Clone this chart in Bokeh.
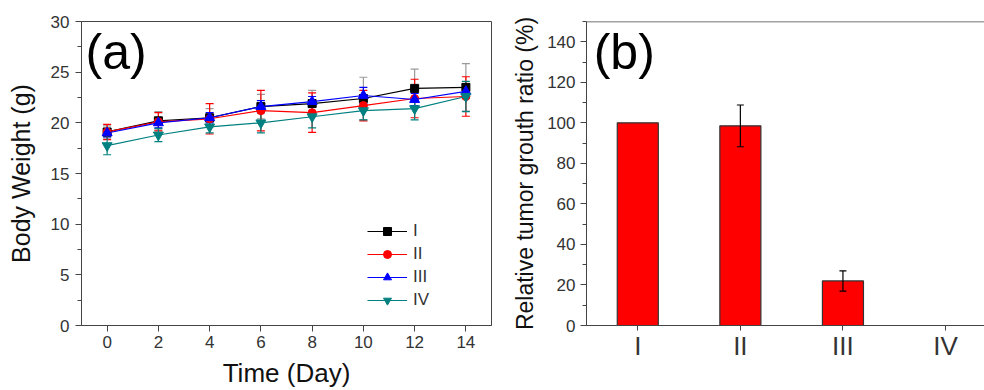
from bokeh.plotting import figure
from bokeh.models import (ColumnDataSource, Whisker, TeeHead, Legend, LegendItem,
                          Label, Span, FixedTicker, Range1d)
from bokeh.layouts import row
from bokeh.embed import file_html
from bokeh.resources import INLINE
import numpy as np

# ---------------- data ----------------
days = [0, 2, 4, 6, 8, 10, 12, 14]
series_names = ["I", "II", "III", "IV"]
w_I = [19.1, 20.2, 20.5, 21.6, 21.9, 22.4, 23.4, 23.5]
w_II = [19.1, 20.1, 20.4, 21.2, 21.0, 21.7, 22.4, 22.6]
w_III = [19.0, 20.0, 20.5, 21.6, 22.1, 22.7, 22.3, 23.1]
w_IV = [17.75, 18.8, 19.6, 20.0, 20.6, 21.2, 21.4, 22.6]
e_I = [0.6, 0.9, 0.9, 1.2, 1.3, 2.1, 1.9, 2.35]
e_II = [0.75, 0.9, 1.5, 2.0, 1.95, 1.5, 1.9, 1.95]
e_III = [0.4, 0.5, 0.5, 0.6, 0.5, 0.8, 0.6, 0.7]
e_IV = [0.9, 0.65, 0.6, 1.0, 1.1, 0.9, 1.1, 1.5]

groups = ["I", "II", "III", "IV"]
growth = [100, 98.5, 22, 0]
growth_err = [0, 10.3, 5, 0]

x_ticks_a = [0, 2, 4, 6, 8, 10, 12, 14]
y_ticks_a = [0, 5, 10, 15, 20, 25, 30]
y_ticks_b = [0, 20, 40, 60, 80, 100, 120, 140]

FONT = "Liberation Sans"
TICK_C = "#333333"
AX_C = "#444444"

# ---------------- panel (a) ----------------
p1 = figure(width=493, height=390, output_backend="svg", toolbar_location=None,
            x_range=Range1d(-1, 15), y_range=Range1d(0, 30),
            min_border_left=81, min_border_right=2, min_border_top=21, min_border_bottom=63)
p1.grid.visible = False
p1.outline_line_color = AX_C
p1.background_fill_color = "white"

colors = ["black", "#FF0000", "#0000FF", "#008080"]
err_colors = ["#9a9a9a", "#FF0000", "#0000FF", "#008080"]
markers = ["square", "circle", "triangle", "inverted_triangle"]
sizes = [8, 8, 10, 10]
vals = [w_I, w_II, w_III, w_IV]
errs = [e_I, e_II, e_III, e_IV]

items = []
srcs = []
for name, c, ec, m, s, v, e in zip(series_names, colors, err_colors, markers, sizes, vals, errs):
    v = np.array(v)
    e = np.array(e)
    src = ColumnDataSource(dict(x=days, y=v, up=v + e, lo=v - e))
    wk = Whisker(source=src, base="x", upper="up", lower="lo", line_color=ec, line_width=1.2,
                 upper_head=TeeHead(size=8, line_color=ec, line_width=1.2),
                 lower_head=TeeHead(size=8, line_color=ec, line_width=1.2))
    p1.add_layout(wk)
    srcs.append((name, src, c, m, s))

for name, src, c, m, s in srcs:
    lr = p1.line("x", "y", source=src, line_color=c, line_width=1.2)
    sr = p1.scatter("x", "y", source=src, marker=m, size=s, fill_color=c, line_color=c)
    items.append(LegendItem(label=name, renderers=[lr, sr]))

legend = Legend(items=items, location=(286, 15), border_line_color=None,
                background_fill_alpha=0, label_text_font=FONT, label_text_font_size="17px",
                label_text_color=TICK_C, glyph_width=40, glyph_height=20, label_height=20,
                spacing=3, padding=4, margin=0, label_standoff=6)
p1.add_layout(legend, "center")

p1.xaxis.ticker = FixedTicker(ticks=x_ticks_a)
p1.yaxis.ticker = FixedTicker(ticks=y_ticks_a, minor_ticks=list(np.arange(0, 30.1, 2.5)))
for ax in (p1.xaxis[0], p1.yaxis[0]):
    ax.axis_line_color = AX_C
    ax.major_tick_line_color = AX_C
    ax.minor_tick_line_color = AX_C
    ax.major_tick_in = 0
    ax.major_tick_out = 6
    ax.minor_tick_in = 0
    ax.minor_tick_out = 4
    ax.major_label_text_font = FONT
    ax.major_label_text_font_size = "17px"
    ax.major_label_text_color = TICK_C
    ax.axis_label_text_font = FONT
    ax.axis_label_text_font_style = "normal"
    ax.axis_label_text_color = "#111111"
    ax.axis_label_text_font_size = "25px"
p1.xaxis.minor_tick_out = 0
p1.xaxis.major_label_standoff = 4
p1.yaxis.major_label_standoff = 6
p1.yaxis.axis_label = "Body Weight (g)"
p1.yaxis.axis_label_standoff = 13
p1.xaxis.axis_label = "Time (Day)"
p1.xaxis.axis_label_text_font_size = "26px"
p1.xaxis.axis_label_standoff = 7

p1.add_layout(Label(x=-0.84, y=29.8, text="(a)", text_font=FONT, text_font_size="50px",
                    text_color="black", text_baseline="top"))

# ---------------- panel (b) ----------------
xpos = list(range(1, len(groups) + 1))
p2 = figure(width=491, height=390, output_backend="svg", toolbar_location=None,
            x_range=Range1d(0.5, 4.38), y_range=Range1d(0, 150),
            min_border_left=93, min_border_right=0, min_border_top=21, min_border_bottom=63)
p2.grid.visible = False
p2.outline_line_color = None
p2.add_layout(Span(location=150, dimension="width", line_color=AX_C, line_width=1.5))

g = np.array(growth, dtype=float)
ge = np.array(growth_err, dtype=float)
bsrc = ColumnDataSource(dict(x=xpos, top=g))
p2.vbar(x="x", top="top", width=0.4, source=bsrc, fill_color="#FF0000", line_color="#333333",
        line_width=1.2)
mask = ge > 0
esrc = ColumnDataSource(dict(x=np.array(xpos)[mask], up=(g + ge)[mask], lo=(g - ge)[mask]))
p2.add_layout(Whisker(source=esrc, base="x", upper="up", lower="lo", line_color="black",
                      line_width=1.2, level="overlay",
                      upper_head=TeeHead(size=7, line_color="black", line_width=1.2),
                      lower_head=TeeHead(size=7, line_color="black", line_width=1.2)))

p2.xaxis.ticker = FixedTicker(ticks=xpos)
p2.xaxis.major_label_overrides = {i: gname for i, gname in zip(xpos, groups)}
p2.yaxis.ticker = FixedTicker(ticks=y_ticks_b, minor_ticks=list(range(0, 151, 10)))
for ax in (p2.xaxis[0], p2.yaxis[0]):
    ax.axis_line_color = AX_C
    ax.major_tick_line_color = AX_C
    ax.minor_tick_line_color = AX_C
    ax.major_tick_in = 0
    ax.major_tick_out = 6
    ax.minor_tick_in = 0
    ax.minor_tick_out = 4
    ax.major_label_text_font = FONT
    ax.major_label_text_color = TICK_C
    ax.axis_label_text_font = FONT
    ax.axis_label_text_font_style = "normal"
    ax.axis_label_text_color = "#111111"
p2.xaxis.minor_tick_out = 0
p2.xaxis.major_tick_out = 5
p2.xaxis.major_label_text_font_size = "26px"
p2.yaxis.major_label_text_font_size = "17px"
p2.xaxis.major_label_standoff = 0
p2.yaxis.major_label_standoff = 5
p2.yaxis.axis_label = "Relative tumor grouth ratio (%)"
p2.yaxis.axis_label_text_font_size = "23px"
p2.yaxis.axis_label_standoff = 6

p2.add_layout(Label(x=0.57, y=148.9, text="(b)", text_font=FONT, text_font_size="50px",
                    text_color="black", text_baseline="top"))

layout = row(p1, p2)
open("out.html", "w").write(file_html(layout, INLINE))
